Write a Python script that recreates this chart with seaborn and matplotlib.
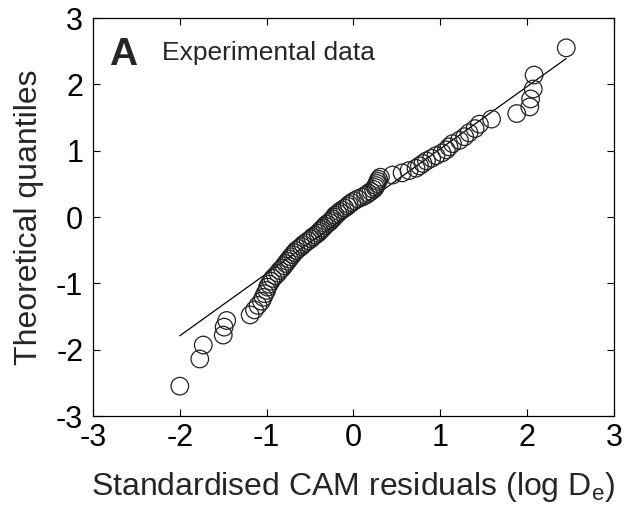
import matplotlib
matplotlib.use("Agg")
import matplotlib.pyplot as plt
import seaborn as sns
import pandas as pd

# Standardised CAM residuals (sorted)
residuals = [
    -2.00, -1.77, -1.73, -1.50, -1.49, -1.46, -1.19, -1.14, -1.10, -1.06,
    -1.04, -1.02, -1.00, -0.99, -0.97, -0.95, -0.93, -0.90, -0.87, -0.85,
    -0.82, -0.80, -0.78, -0.76, -0.74, -0.72, -0.70, -0.68, -0.66, -0.63,
    -0.60, -0.58, -0.55, -0.52, -0.49, -0.47, -0.44, -0.41, -0.39, -0.37,
    -0.35, -0.33, -0.31, -0.28, -0.26, -0.24, -0.22,
    -0.21, -0.18, -0.16, -0.13, -0.10, -0.07, -0.05, -0.02, 0.01, 0.05,
    0.10, 0.14, 0.17, 0.20, 0.23, 0.25, 0.26, 0.27, 0.28, 0.29,
    0.31, 0.45, 0.56, 0.64, 0.72, 0.76, 0.80, 0.84, 0.90, 0.95,
    1.02, 1.07, 1.10, 1.14, 1.22, 1.28, 1.33, 1.40, 1.45, 1.59,
    1.88, 2.03, 2.04, 2.07, 2.08, 2.45,
]

# Theoretical quantiles
quantiles = [
    -2.55, -2.14, -1.93, -1.78, -1.66, -1.56, -1.476, -1.40, -1.333, -1.269,
    -1.211, -1.156, -1.106, -1.057, -1.012, -0.967, -0.925, -0.885, -0.846, -0.807,
    -0.771, -0.735, -0.700, -0.666, -0.633, -0.600, -0.568, -0.537, -0.506, -0.475,
    -0.445, -0.416, -0.386, -0.357, -0.329, -0.301, -0.273, -0.245, -0.217, -0.190,
    -0.163, -0.135, -0.108, -0.081, -0.054, -0.027, 0.0,
    0.027, 0.054, 0.081, 0.108, 0.135, 0.163, 0.190, 0.217, 0.245, 0.273,
    0.301, 0.329, 0.357, 0.386, 0.416, 0.445, 0.475, 0.506, 0.537, 0.568,
    0.600, 0.633, 0.666, 0.700, 0.735, 0.771, 0.807, 0.846, 0.885, 0.925,
    0.967, 1.012, 1.057, 1.106, 1.156, 1.211, 1.269, 1.333, 1.40, 1.476,
    1.56, 1.66, 1.78, 1.93, 2.14, 2.55,
]

# Reference line end points
line_x = [-2.00, 2.45]
line_y = [-1.79, 2.39]

ticks = [-3, -2, -1, 0, 1, 2, 3]
tick_labels = ["-3", "-2", "-1", "0", "1", "2", "3"]

sns.set_style("ticks")
plt.rcParams["font.family"] = ["Liberation Sans", "DejaVu Sans"]
plt.rcParams["mathtext.fontset"] = "custom"
plt.rcParams["mathtext.rm"] = "Liberation Sans"
plt.rcParams["mathtext.it"] = "Liberation Sans"

fig = plt.figure(figsize=(6.3, 5.15), dpi=100)
ax = fig.add_axes([0.1476, 0.1922, 0.827, 0.7728])

pts = pd.DataFrame({"x": residuals, "y": quantiles})
ln = pd.DataFrame({"x": line_x, "y": line_y})

sns.lineplot(data=ln, x="x", y="y", ax=ax, color="black", linewidth=0.9,
             estimator=None, sort=False)
sns.scatterplot(data=pts, x="x", y="y", ax=ax, marker="o", s=160,
                facecolor="none", edgecolor="#222222", linewidth=0.9, zorder=3)

ax.set_xlim(-3, 3)
ax.set_ylim(-3, 3)
ax.set_xticks(ticks)
ax.set_xticklabels(tick_labels)
ax.set_yticks(ticks)
ax.set_yticklabels(tick_labels)
ax.tick_params(direction="in", length=5, width=0.8, labelsize=22,
               top=True, right=True, colors="black")
ax.tick_params(axis="x", pad=5)
ax.tick_params(axis="y", pad=7)
for s in ax.spines.values():
    s.set_visible(True)
    s.set_linewidth(0.9)
    s.set_color("black")

ax.set_xlabel(r"Standardised CAM residuals (log D$_{\mathregular{e}}$)",
              fontsize=23, labelpad=12)
ax.set_ylabel("Theoretical quantiles", fontsize=23, labelpad=9)

ax.text(-2.81, 2.29, "A", fontsize=28, fontweight="bold", va="baseline", ha="left")
ax.text(-2.2, 2.36, "Experimental data", fontsize=19, va="baseline", ha="left")

fig.savefig("out.png", dpi=100)
